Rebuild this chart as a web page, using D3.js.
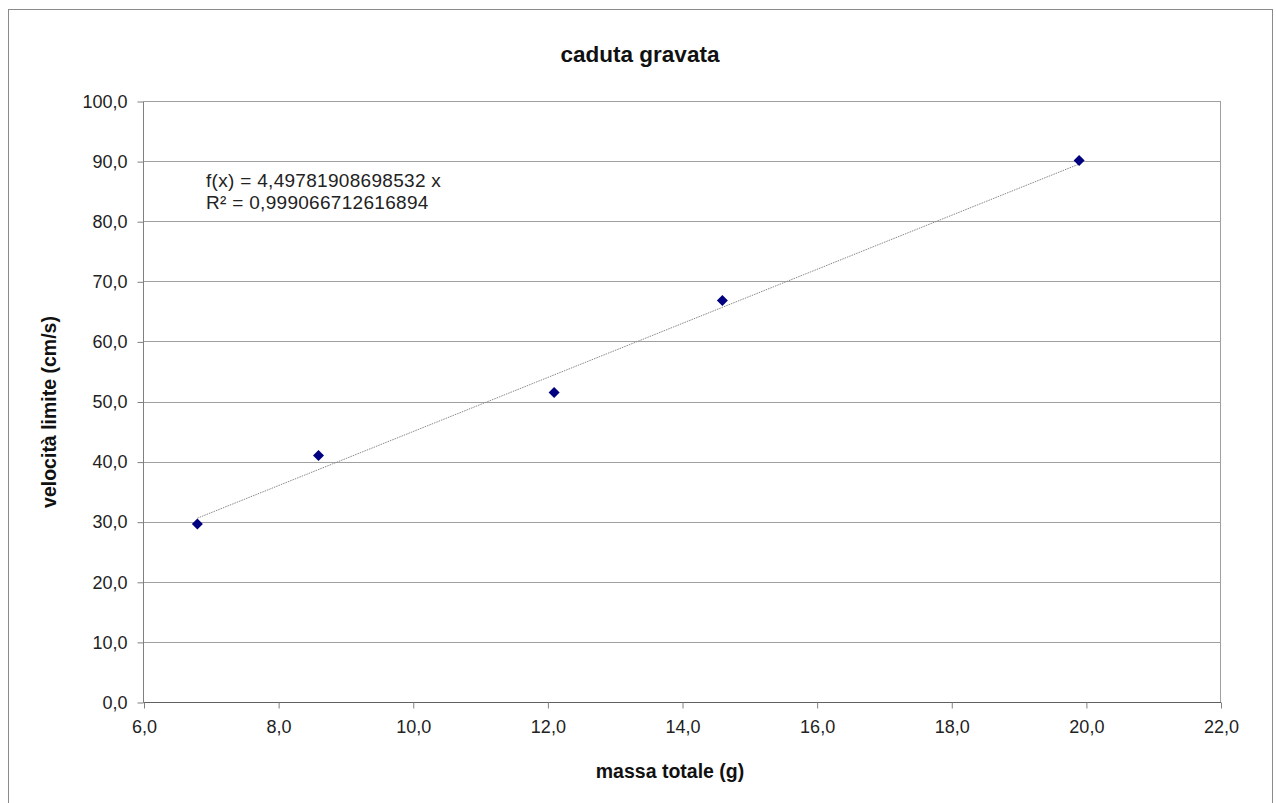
<!DOCTYPE html>
<html><head><meta charset="utf-8">
<script src="https://cdn.jsdelivr.net/npm/d3@7"></script>
<style>body{margin:0;background:#fff}svg text{font-family:"Liberation Sans",Arial,sans-serif}</style>
</head><body>
<script>
const massa = [6.8, 8.6, 12.1, 14.6, 19.9];
const velocita = [29.6, 41.0, 51.5, 66.8, 90.1];
const slope = 4.49781908698532;
const xTicks = [6, 8, 10, 12, 14, 16, 18, 20, 22];
const yTicks = [0, 10, 20, 30, 40, 50, 60, 70, 80, 90, 100];
const title = "caduta gravata";
const xLabel = "massa totale (g)";
const yLabel = "velocità limite (cm/s)";
const eqLines = ["f(x) = 4,49781908698532 x", "R² = 0,999066712616894"];

const W = 1276, H = 803;
const svg = d3.select("body").append("svg").attr("width", W).attr("height", H);
svg.append("rect").attr("x", 8.5).attr("y", 9.5).attr("width", 1264).attr("height", 810)
  .attr("fill", "#fff").attr("stroke", "#8a8a8a").attr("stroke-width", 1);

const L = 143.5, R = 1220.5, T = 101, B = 702;
const x = d3.scaleLinear().domain([6, 22]).range([L, R]);
const y = d3.scaleLinear().domain([0, 100]).range([B, T]);
const fmt = d => d.toFixed(1).replace(".", ",");

// gridlines
svg.append("g").selectAll("line").data(yTicks).join("line")
  .attr("x1", L).attr("x2", R).attr("y1", d => Math.round(y(d)) + 0.5).attr("y2", d => Math.round(y(d)) + 0.5)
  .attr("stroke", "#a0a0a0").attr("stroke-width", 1);
// right border of plot
svg.append("line").attr("x1", R).attr("x2", R).attr("y1", T).attr("y2", B).attr("stroke", "#a0a0a0");

// axes
const yAxis = d3.axisLeft(y).tickValues(yTicks).tickFormat(fmt).tickSize(6).tickPadding(10);
const gy = svg.append("g").attr("transform", `translate(${L},0.5)`).call(yAxis);
gy.select(".domain").attr("stroke", "#808080").attr("d", `M0,${T}V${B}`);
gy.selectAll(".tick line").attr("stroke", "#808080");
gy.selectAll(".tick text").attr("font-size", 18).attr("fill", "#222").attr("font-family", "Liberation Sans, Arial, sans-serif");

const xAxis = d3.axisBottom(x).tickValues(xTicks).tickFormat(fmt).tickSize(6).tickPadding(12);
const gx = svg.append("g").attr("transform", `translate(0.5,${B + 0.5})`).call(xAxis);
gx.select(".domain").attr("stroke", "#606060").attr("d", `M${L - 0.5},0H${R}`);
gx.selectAll(".tick line").attr("stroke", "#808080");
gx.selectAll(".tick text").attr("font-size", 18).attr("fill", "#222").attr("font-family", "Liberation Sans, Arial, sans-serif");

// trendline
const x0 = d3.min(massa), x1 = d3.max(massa);
svg.append("line").attr("x1", x(x0)).attr("y1", y(slope * x0)).attr("x2", x(x1)).attr("y2", y(slope * x1))
  .attr("stroke", "#888").attr("stroke-width", 1).attr("stroke-dasharray", "1.5,1");

// points
svg.append("g").selectAll("path").data(massa).join("path")
  .attr("transform", (d, i) => `translate(${x(d)},${y(velocita[i])})`)
  .attr("d", "M0,-5.5L5.5,0L0,5.5L-5.5,0Z").attr("fill", "#000080");

// equation
svg.append("g").selectAll("text").data(eqLines).join("text")
  .attr("x", 206).attr("y", (d, i) => 187 + i * 22).attr("font-size", 19).attr("letter-spacing", 0.3)
  .attr("fill", "#222").text(d => d);

// titles
svg.append("text").attr("x", 640).attr("y", 62).attr("text-anchor", "middle")
  .attr("font-size", 22.5).attr("font-weight", "bold").attr("fill", "#111").text(title);
svg.append("text").attr("x", 670).attr("y", 778).attr("text-anchor", "middle")
  .attr("font-size", 19.5).attr("font-weight", "bold").attr("fill", "#111").text(xLabel);
svg.append("text").attr("transform", "translate(56,412) rotate(-90)").attr("text-anchor", "middle")
  .attr("font-size", 19.5).attr("font-weight", "bold").attr("fill", "#111").text(yLabel);
</script>
</body></html>
